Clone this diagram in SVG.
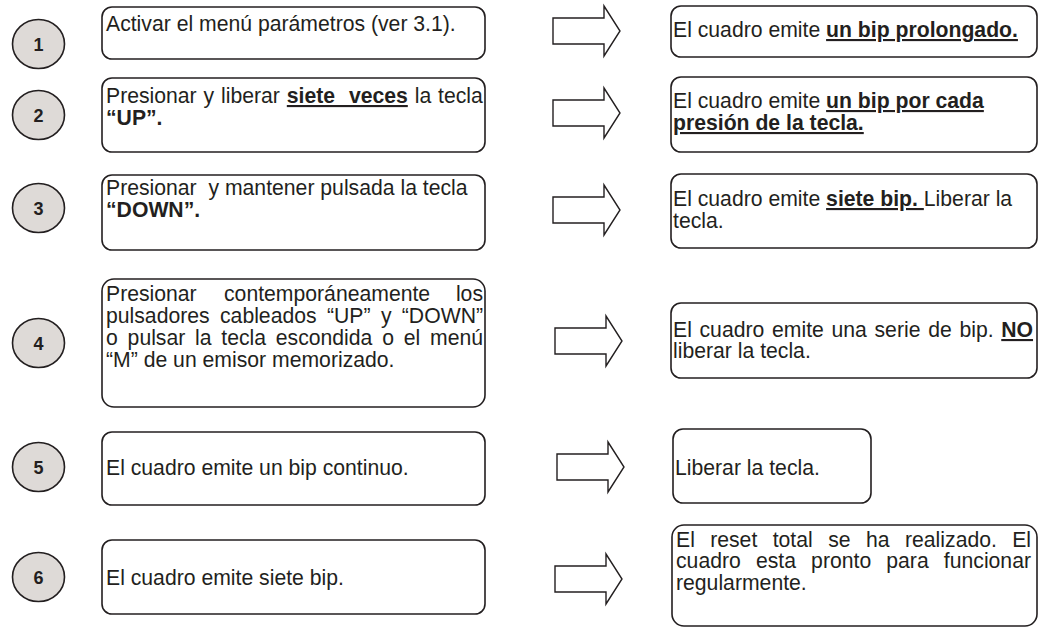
<svg xmlns="http://www.w3.org/2000/svg" width="1038" height="629" viewBox="0 0 1038 629">
<style>
.bg{fill:#ffffff}
.box{fill:#ffffff;stroke:#231f20;stroke-width:1.6}
.num{fill:#dedad7;stroke:#231f20;stroke-width:1.6}
.arrow{fill:#ffffff;stroke:#231f20;stroke-width:1.4;stroke-linejoin:miter}
text{font-family:"Liberation Sans",Arial,sans-serif;font-size:21.2px;fill:#231f20}
.n{font-weight:bold;font-size:18px;text-anchor:middle}
.b{font-weight:bold}
.u{font-weight:bold;text-decoration:underline}
.e{text-anchor:end}
</style>
<defs>
<path id="arr" class="arrow" d="M0,-13 H51 V-25 L67,0 L51,25 V13 H0 Z"/>
</defs>
<rect class="bg" x="0" y="0" width="1038" height="629"/>

<g id="connectors">
<use href="#arr" x="553" y="31"/>
<use href="#arr" x="553" y="113"/>
<use href="#arr" x="553" y="210"/>
<use href="#arr" x="555" y="341"/>
<use href="#arr" x="557" y="467"/>
<use href="#arr" x="555" y="579"/>
</g>

<g id="step1">
<ellipse class="num" cx="38.5" cy="44" rx="26" ry="24.5"/>
<text class="n" x="38.5" y="50.5">1</text>
</g>
<g id="step2">
<ellipse class="num" cx="38.5" cy="115" rx="26" ry="24.5"/>
<text class="n" x="38.5" y="121.5">2</text>
</g>
<g id="step3">
<ellipse class="num" cx="38.5" cy="208" rx="26" ry="24.5"/>
<text class="n" x="38.5" y="214.5">3</text>
</g>
<g id="step4">
<ellipse class="num" cx="38.5" cy="343" rx="26" ry="24.5"/>
<text class="n" x="38.5" y="349.5">4</text>
</g>
<g id="step5">
<ellipse class="num" cx="38.5" cy="467" rx="26" ry="24.5"/>
<text class="n" x="38.5" y="473.5">5</text>
</g>
<g id="step6">
<ellipse class="num" cx="38.5" cy="577" rx="26" ry="24.5"/>
<text class="n" x="38.5" y="583.5">6</text>
</g>

<g id="action1">
<rect class="box" x="102" y="7" width="383" height="52" rx="10"/>
<text x="106" y="31">Activar el menú parámetros (ver 3.1).</text>
</g>
<g id="action2">
<rect class="box" x="102" y="78" width="383" height="74" rx="10"/>
<text x="106" y="103" xml:space="preserve" word-spacing="1">Presionar y liberar <tspan class="u">siete  veces</tspan> la tecla</text>
<text x="106" y="125" class="b">“UP”.</text>
</g>
<g id="action3">
<rect class="box" x="102" y="175" width="383" height="75" rx="10"/>
<text x="106" y="195" xml:space="preserve">Presionar  y mantener pulsada la tecla</text>
<text x="106" y="217" class="b">“DOWN”.</text>
</g>
<g id="action4">
<rect class="box" x="102" y="279" width="383" height="128" rx="12"/>
<text y="301"><tspan x="106">Presionar</tspan><tspan x="224">contemporáneamente</tspan><tspan x="483" class="e">los</tspan></text>
<text y="323"><tspan x="106">pulsadores</tspan><tspan x="220">cableados</tspan><tspan x="327">“UP”</tspan><tspan x="381">y</tspan><tspan x="483" class="e">“DOWN”</tspan></text>
<text y="345"><tspan x="106">o</tspan><tspan x="127.6">pulsar</tspan><tspan x="195">la</tspan><tspan x="221.3">tecla</tspan><tspan x="275.8">escondida</tspan><tspan x="382.2">o</tspan><tspan x="403.8">el</tspan><tspan x="483" class="e">menú</tspan></text>
<text x="106" y="367">“M” de un emisor memorizado.</text>
</g>
<g id="action5">
<rect class="box" x="102" y="432" width="383" height="73" rx="10"/>
<text x="106" y="475">El cuadro emite un bip continuo.</text>
</g>
<g id="action6">
<rect class="box" x="102" y="540" width="383" height="74" rx="10"/>
<text x="106" y="585">El cuadro emite siete bip.</text>
</g>

<g id="result1">
<rect class="box" x="671" y="6" width="366" height="51" rx="10"/>
<text x="673" y="37">El cuadro emite <tspan class="u">un bip prolongado.</tspan></text>
</g>
<g id="result2">
<rect class="box" x="671" y="77" width="366" height="75" rx="10"/>
<text x="673" y="108">El cuadro emite <tspan class="u">un bip por cada</tspan></text>
<text x="673" y="130" class="u">presión de la tecla.</text>
</g>
<g id="result3">
<rect class="box" x="671" y="174" width="366" height="74" rx="10"/>
<text x="673" y="206" xml:space="preserve">El cuadro emite <tspan class="u">siete bip. </tspan>Liberar la</text>
<text x="673" y="228">tecla.</text>
</g>
<g id="result4">
<rect class="box" x="671" y="303" width="366" height="75" rx="10"/>
<text x="673" y="337" word-spacing="1.8">El cuadro emite una serie de bip. <tspan class="u">NO</tspan></text>
<text x="673" y="358">liberar la tecla.</text>
</g>
<g id="result5">
<rect class="box" x="673" y="429" width="198" height="74" rx="10"/>
<text x="675" y="475">Liberar la tecla.</text>
</g>
<g id="result6">
<rect class="box" x="672" y="525" width="365" height="101" rx="12"/>
<text y="547"><tspan x="676">El</tspan><tspan x="710.2">reset</tspan><tspan x="772.7">total</tspan><tspan x="828.2">se</tspan><tspan x="866">ha</tspan><tspan x="905">realizado.</tspan><tspan x="1031" class="e">El</tspan></text>
<text y="568"><tspan x="676">cuadro</tspan><tspan x="755.9">esta</tspan><tspan x="811.1">pronto</tspan><tspan x="886.3">para</tspan><tspan x="1031" class="e">funcionar</tspan></text>
<text x="676" y="590">regularmente.</text>
</g>
</svg>
